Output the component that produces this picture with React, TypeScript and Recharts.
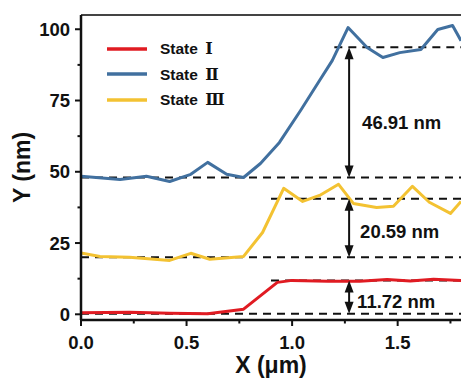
import React from "react";
import { LineChart, Line, XAxis, YAxis, ReferenceLine, Legend, Label } from "recharts";

// State I (red)
const redX = [0, 0.23, 0.42, 0.6, 0.77, 0.93, 1.0, 1.17, 1.32, 1.45, 1.56, 1.67, 1.8];
const redY = [0.5, 0.7, 0.4, 0.2, 1.8, 11.2, 11.9, 11.6, 11.6, 12.2, 11.7, 12.3, 11.9];

// State II (blue)
const blueX = [0, 0.185, 0.31, 0.42, 0.52, 0.6, 0.69, 0.77, 0.85, 0.94, 1.04, 1.13, 1.19, 1.265, 1.355, 1.43, 1.51, 1.61, 1.69, 1.76, 1.8];
const blueY = [48.4, 47.3, 48.4, 46.6, 49.1, 53.3, 49.1, 48.0, 52.9, 60.3, 71.5, 82.0, 89.0, 100.6, 93.6, 90.1, 91.8, 92.9, 99.9, 101.3, 96.0];

// State III (yellow)
const yellowX = [0, 0.09, 0.23, 0.42, 0.52, 0.61, 0.77, 0.86, 0.96, 1.05, 1.13, 1.22, 1.29, 1.4, 1.48, 1.57, 1.65, 1.75, 1.8];
const yellowY = [21.5, 20.3, 20.0, 18.9, 21.4, 19.3, 20.3, 28.7, 44.2, 39.6, 41.7, 45.6, 38.9, 37.5, 37.9, 44.9, 39.3, 35.4, 39.6];

const seriesNames = ["State", "State", "State"];
const seriesNumerals = ["\u2160", "\u2161", "\u2162"];
const seriesColors = ["#e01b22", "#41709f", "#f3c232"];

const xTicks = [0, 0.25, 0.5, 0.75, 1.0, 1.25, 1.5, 1.75];
const xMajor = [0, 0.5, 1.0, 1.5];
const yTicks = [0, 12.5, 25, 37.5, 50, 62.5, 75, 87.5, 100];
const yMajor = [0, 25, 50, 75, 100];

// dashed level lines: [y, xStart, xEnd]
const levels = [
  [0.2, 0, 1.8],
  [11.9, 0.9, 1.8],
  [20.0, 0, 1.8],
  [40.5, 0.9, 1.8],
  [48.0, 0, 1.8],
  [93.7, 1.2, 1.8],
];

// arrows: top, bottom, label
const arrowX = 1.27;
const arrows = [
  { top: 93.7, bottom: 48.0, text: "46.91 nm", dx: 13, dy: 10 },
  { top: 40.5, bottom: 20.0, text: "20.59 nm", dx: 11, dy: 3 },
  { top: 11.9, bottom: 0.2, text: "11.72 nm", dx: 8, dy: 4 },
];

const FONT = "'Liberation Sans', Arial, sans-serif";

const toPoints = (xs: number[], ys: number[]) => xs.map((x, i) => ({ x, y: ys[i] }));
const seriesData = [toPoints(redX, redY), toPoints(blueX, blueY), toPoints(yellowX, yellowY)];

function YTick(props: any) {
  const { x, y, payload } = props;
  const major = yMajor.includes(payload.value);
  return (
    <g>
      <line x1={x} x2={x - (major ? 6 : 3.5)} y1={y} y2={y} stroke="#111" strokeWidth={2} />
      {major && (
        <text x={x - 11} y={y} textAnchor="end" dominantBaseline="central" fontFamily={FONT} fontWeight="bold" fontSize={18.5} fill="#111">
          {payload.value}
        </text>
      )}
    </g>
  );
}

function XTick(props: any) {
  const { x, y, payload } = props;
  const major = xMajor.includes(payload.value);
  return (
    <g>
      <line x1={x} x2={x} y1={y} y2={y + (major ? 6 : 3.5)} stroke="#111" strokeWidth={2} />
      {major && (
        <text x={x} y={y + 22} textAnchor="middle" dominantBaseline="central" fontFamily={FONT} fontWeight="bold" fontSize={18.5} fill="#111">
          {payload.value.toFixed(1)}
        </text>
      )}
    </g>
  );
}

function makeArrow(text: string, dx: number, dy: number) {
  return (p: any) => {
    const { x1, y1, x2, y2 } = p;
    const head = 12;
    const hw = 4.5;
    return (
      <g>
        <line x1={x1} x2={x2} y1={y1 + head - 2} y2={y2 - head + 2} stroke="#111" strokeWidth={2} />
        <polygon points={`${x1},${y1} ${x1 - hw},${y1 + head} ${x1 + hw},${y1 + head}`} fill="#111" />
        <polygon points={`${x2},${y2} ${x2 - hw},${y2 - head} ${x2 + hw},${y2 - head}`} fill="#111" />
        <text x={x1 + dx} y={(y1 + y2) / 2 + dy} dominantBaseline="central" fontFamily={FONT} fontWeight="bold" fontSize={18.5} fill="#111">
          {text}
        </text>
      </g>
    );
  };
}

function LegendBox() {
  return (
    <div style={{ fontFamily: FONT, fontWeight: "bold", fontSize: 15.5, color: "#111" }}>
      {seriesNames.map((name, i) => (
        <div key={i} style={{ display: "flex", alignItems: "center", height: 25.5 }}>
          <svg width={40} height={6} style={{ marginRight: 13 }}>
            <line x1={0} x2={40} y1={3} y2={3} stroke={seriesColors[i]} strokeWidth={3.5} strokeLinecap="round" />
          </svg>
          <span style={{ whiteSpace: "nowrap" }}>
            {name}{" "}
            <span style={{ fontFamily: "'DejaVu Serif', serif", fontSize: 16, marginLeft: 3 }}>{seriesNumerals[i]}</span>
          </span>
        </div>
      ))}
    </div>
  );
}

export default function App() {
  return (
    <div style={{ position: "absolute", left: 0, top: 0, width: 461, height: 383, overflow: "hidden", background: "#fff" }}>
      <LineChart width={470} height={383} margin={{ top: 15, right: 9, bottom: 0, left: 0 }}>
        <XAxis
          type="number"
          dataKey="x"
          domain={[0, 1.8]}
          ticks={xTicks}
          interval={0}
          allowDataOverflow
          height={63}
          tickSize={0}
          tickMargin={0}
          tickLine={false}
          axisLine={{ stroke: "#111", strokeWidth: 2.5 }}
          tick={<XTick />}
        >
          <Label
            content={(p: any) => {
              const vb = p.viewBox;
              return (
                <text x={vb.x + vb.width / 2} y={vb.y + 45} textAnchor="middle" dominantBaseline="central" fontFamily={FONT} fontWeight="bold" fontSize={23} fill="#111">
                  X (μm)
                </text>
              );
            }}
          />
        </XAxis>
        <YAxis
          type="number"
          domain={[-2, 105]}
          ticks={yTicks}
          interval={0}
          allowDataOverflow
          width={81}
          tickSize={0}
          tickMargin={0}
          tickLine={false}
          axisLine={{ stroke: "#111", strokeWidth: 2.5 }}
          tick={<YTick />}
        >
          <Label
            content={(p: any) => {
              const vb = p.viewBox;
              return (
                <text x={22} y={vb.y + vb.height / 2} transform={`rotate(-90, 22, ${vb.y + vb.height / 2})`} textAnchor="middle" dominantBaseline="central" fontFamily={FONT} fontWeight="bold" fontSize={23} fill="#111">
                  Y (nm)
                </text>
              );
            }}
          />
        </YAxis>
        <ReferenceLine y={105} stroke="#444" strokeWidth={2} />
        {levels.map(([y, xa, xb], i) => (
          <ReferenceLine
            key={"lv" + i}
            segment={[{ x: xa, y }, { x: xb, y }]}
            stroke="#111"
            strokeWidth={2}
            strokeDasharray="8 6"
          />
        ))}
        {seriesData.map((d, i) => (
          <Line
            key={i}
            data={d}
            dataKey="y"
            name={seriesNames[i] + " " + seriesNumerals[i]}
            type="linear"
            stroke={seriesColors[i]}
            strokeWidth={3}
            strokeLinejoin="round"
            dot={false}
            activeDot={false}
            isAnimationActive={false}
          />
        ))}
        {arrows.map((a, i) => (
          <ReferenceLine
            key={"ar" + i}
            segment={[{ x: arrowX, y: a.top }, { x: arrowX, y: a.bottom }]}
            shape={makeArrow(a.text, a.dx, a.dy)}
          />
        ))}
        <Legend
          verticalAlign="middle"
          align="center"
          layout="vertical"
          content={() => <LegendBox />}
          wrapperStyle={{ top: 36, left: 107, width: 200 }}
        />
      </LineChart>
    </div>
  );
}
